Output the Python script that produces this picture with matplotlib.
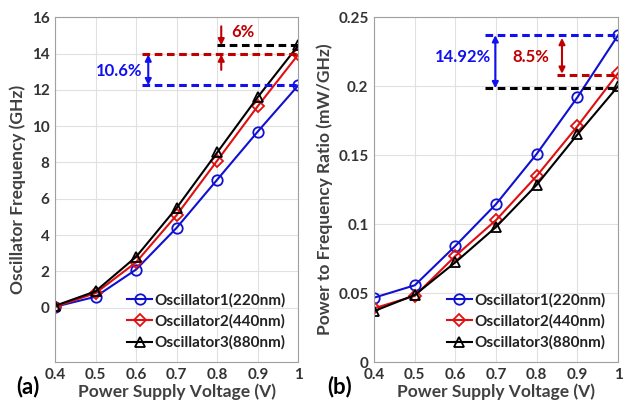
import matplotlib
matplotlib.use('Agg')
from matplotlib import pyplot as plt

# supply voltage (V)
voltage = [0.4, 0.5, 0.6, 0.7, 0.8, 0.9, 1.0]

# oscillator frequency (GHz)
freq_osc1 = [0.05, 0.6, 2.1, 4.4, 7.05, 9.7, 12.25]
freq_osc2 = [0.05, 0.8, 2.5, 5.1, 8.1, 11.1, 13.95]
freq_osc3 = [0.1, 0.9, 2.8, 5.5, 8.55, 11.6, 14.45]

# power to frequency ratio (mW/GHz)
ratio_osc1 = [0.0467, 0.0557, 0.0843, 0.1146, 0.151, 0.192, 0.237]
ratio_osc2 = [0.039, 0.048, 0.077, 0.103, 0.135, 0.171, 0.2095]
ratio_osc3 = [0.037, 0.0487, 0.0724, 0.098, 0.1286, 0.165, 0.2]

labels = ['Oscillator1(220nm)', 'Oscillator2(440nm)', 'Oscillator3(880nm)']
colors = ['#1010d0', '#e01010', 'black']
markers = ['o', 'D', '^']

plt.rcParams['font.family'] = ['Lato', 'DejaVu Sans']
plt.rcParams['font.weight'] = 'bold'

fig = plt.figure(figsize=(6.32, 4.01), dpi=100)
ax1 = fig.add_axes([0.087, 0.097, 0.385, 0.860])
ax2 = fig.add_axes([0.592, 0.097, 0.386, 0.860])

def draw(ax, series):
	for ys, lab, c, m in zip(series, labels, colors, markers):
		ms = 6 if m == 'D' else 7.5
		ax.plot(voltage, ys, color=c, marker=m, mfc='none', mec=c, ms=ms,
			mew=1.3, lw=1.5, label=lab)
	ax.set_xlim(0.4, 1.0)
	ax.set_xticks(voltage)
	ax.set_xticklabels(['0.4', '0.5', '0.6', '0.7', '0.8', '0.9', '1'])
	ax.grid(True, color='#e0e0e0', lw=0.8)
	ax.set_axisbelow(True)
	ax.tick_params(labelsize=11, colors='#333333', length=0, pad=4)
	for sp in ax.spines.values():
		sp.set_color('#a0a0a0')
	ax.set_xlabel('Power Supply Voltage (V)', fontsize=12.5, color='#404040',
		fontweight='bold', labelpad=1)
	leg = ax.legend(loc='lower right', frameon=False, fontsize=11,
		handlelength=1.6, handletextpad=0.2, borderaxespad=0.4, labelspacing=0.45)
	for t in leg.get_texts():
		t.set_color('#222222')

draw(ax1, [freq_osc1, freq_osc2, freq_osc3])
ax1.set_ylim(-3, 16)
ax1.set_yticks([0, 2, 4, 6, 8, 10, 12, 14, 16])
ax1.set_ylabel('Oscillator Frequency (GHz)', fontsize=12.5, color='#404040',
	fontweight='bold', labelpad=4)

draw(ax2, [ratio_osc1, ratio_osc2, ratio_osc3])
ax2.set_ylim(0, 0.25)
ax2.set_yticks([0, 0.05, 0.1, 0.15, 0.2, 0.25])
ax2.set_yticklabels(['0', '0.05', '0.1', '0.15', '0.2', '0.25'])
ax2.set_ylabel('Power to Frequency Ratio (mW/GHz)', fontsize=12.5, color='#404040',
	fontweight='bold', labelpad=4)

# annotations (a)
blue = '#1010f0'
red = '#c00000'
ax1.plot([0.615, 1.0], [freq_osc2[-1], freq_osc2[-1]], ls='--', color=red, lw=2.2, dashes=(2.5, 1.5))
ax1.plot([0.615, 1.0], [freq_osc1[-1], freq_osc1[-1]], ls='--', color=blue, lw=2.2, dashes=(2.5, 1.5))
ax1.plot([0.80, 1.0], [freq_osc3[-1], freq_osc3[-1]], ls='--', color='black', lw=2.2, dashes=(2.5, 1.5))
ax1.annotate('', xy=(0.63, freq_osc2[-1]), xytext=(0.63, freq_osc1[-1]),
	arrowprops=dict(arrowstyle='<|-|>', color=blue, lw=1.5, mutation_scale=9, shrinkA=0, shrinkB=0))
ax1.text(0.615, 13.05, '10.6%', color=blue, fontsize=12, fontweight='bold', ha='right', va='center')
ax1.annotate('', xy=(0.81, freq_osc3[-1]), xytext=(0.81, 15.5),
	arrowprops=dict(arrowstyle='-|>', color=red, lw=1.5, mutation_scale=9, shrinkA=0, shrinkB=0))
ax1.annotate('', xy=(0.81, freq_osc2[-1]), xytext=(0.81, 13.1),
	arrowprops=dict(arrowstyle='-|>', color=red, lw=1.5, mutation_scale=9, shrinkA=0, shrinkB=0))
ax1.text(0.835, 15.2, '6%', color=red, fontsize=12, fontweight='bold', ha='left', va='center')

# annotations (b)
ax2.plot([0.673, 1.0], [ratio_osc1[-1], ratio_osc1[-1]], ls='--', color=blue, lw=2.2, dashes=(2.5, 1.5))
ax2.plot([0.673, 1.0], [0.1985, 0.1985], ls='--', color='black', lw=2.2, dashes=(2.5, 1.5))
ax2.plot([0.85, 1.0], [0.208, 0.208], ls='--', color=red, lw=2.2, dashes=(2.5, 1.5))
ax2.annotate('', xy=(0.698, ratio_osc1[-1]), xytext=(0.698, 0.1985),
	arrowprops=dict(arrowstyle='<|-|>', color=blue, lw=1.5, mutation_scale=9, shrinkA=0, shrinkB=0))
ax2.text(0.688, 0.2215, '14.92%', color=blue, fontsize=12, fontweight='bold', ha='right', va='center')
ax2.annotate('', xy=(0.862, ratio_osc1[-1] - 0.002), xytext=(0.862, 0.209),
	arrowprops=dict(arrowstyle='<|-|>', color=red, lw=1.5, mutation_scale=9, shrinkA=0, shrinkB=0))
ax2.text(0.83, 0.2215, '8.5%', color=red, fontsize=12, fontweight='bold', ha='right', va='center')

fig.text(0.025, 0.018, '(a)', fontsize=16, fontweight='bold', color='black')
fig.text(0.518, 0.018, '(b)', fontsize=16, fontweight='bold', color='black')

fig.savefig('out.png', dpi=100)
